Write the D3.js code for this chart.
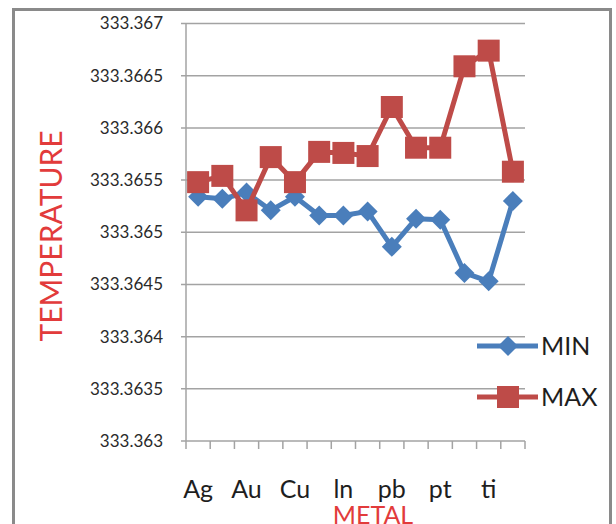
<!DOCTYPE html>
<html>
<head>
<meta charset="utf-8">
<script src="https://cdn.jsdelivr.net/npm/d3@7"></script>
<style>
  body { margin: 0; background: #fff; }
  svg text { font-family: Lato, "Open Sans", sans-serif; }
</style>
</head>
<body>
<div id="chart"></div>
<script>
// Chart data
const categories = ["Ag", "", "Au", "", "Cu", "", "ln", "", "pb", "", "pt", "", "ti", ""];
const minValues = [333.36534, 333.36532, 333.36538, 333.36521, 333.36534, 333.36516, 333.36516,
                   333.36520, 333.36486, 333.36513, 333.36512, 333.36461, 333.36453, 333.36530];
const maxValues = [333.36548, 333.36554, 333.36521, 333.36572, 333.36548, 333.36577, 333.36576,
                   333.36573, 333.36620, 333.36581, 333.36581, 333.36659, 333.36674, 333.36558];
const yTicks = [333.363, 333.3635, 333.364, 333.3645, 333.365, 333.3655, 333.366, 333.3665, 333.367];
const seriesNames = ["MIN", "MAX"];

const width = 616, height = 524;
const plot = { left: 186, right: 525, top: 23.5, bottom: 441 };

const svg = d3.select("#chart")
  .append("svg")
  .attr("width", width)
  .attr("height", height);

// outer frame
svg.append("rect")
  .attr("x", 13.5)
  .attr("y", 9.5)
  .attr("width", 597)
  .attr("height", 540)
  .attr("fill", "#fff")
  .attr("stroke", "#8a8a8a")
  .attr("stroke-width", 3);

const x = d3.scaleBand()
  .domain(d3.range(categories.length))
  .range([plot.left, plot.right]);

const y = d3.scaleLinear()
  .domain([333.363, 333.367])
  .range([plot.bottom, plot.top]);

// gridlines + y ticks
svg.append("g")
  .selectAll("line")
  .data(yTicks)
  .enter()
  .append("line")
  .attr("x1", plot.left - 5)
  .attr("x2", plot.right)
  .attr("y1", d => y(d))
  .attr("y2", d => y(d))
  .attr("stroke", "#a3a3a3")
  .attr("stroke-width", 1.5);

svg.append("g")
  .selectAll("text")
  .data(yTicks)
  .enter()
  .append("text")
  .attr("x", 163)
  .attr("y", d => y(d))
  .attr("dy", "0.35em")
  .attr("text-anchor", "end")
  .attr("font-size", 17)
  .attr("fill", "#2a2a2a")
  .text(d => String(d));

// y axis line
svg.append("line")
  .attr("x1", plot.left).attr("x2", plot.left)
  .attr("y1", plot.top).attr("y2", plot.bottom)
  .attr("stroke", "#a3a3a3")
  .attr("stroke-width", 1.5);

// x axis ticks at band edges
const edges = d3.range(categories.length + 1).map(i => plot.left + i * x.step());
svg.append("g")
  .selectAll("line")
  .data(edges)
  .enter()
  .append("line")
  .attr("x1", d => d).attr("x2", d => d)
  .attr("y1", plot.bottom).attr("y2", plot.bottom + 8)
  .attr("stroke", "#a3a3a3")
  .attr("stroke-width", 1.5);

svg.append("g")
  .selectAll("text")
  .data(categories)
  .enter()
  .append("text")
  .attr("x", (d, i) => x(i) + x.bandwidth() / 2)
  .attr("y", 498)
  .attr("text-anchor", "middle")
  .attr("font-size", 25)
  .attr("fill", "#1e1e1e")
  .text(d => d);

// axis titles
svg.append("text")
  .attr("transform", "translate(62,236) rotate(-90)")
  .attr("text-anchor", "middle")
  .attr("font-size", 30)
  .attr("fill", "#e23b3b")
  .text("TEMPERATURE");

// cut by the bottom edge, as in the original
svg.append("text")
  .attr("x", 373)
  .attr("y", 524)
  .attr("text-anchor", "middle")
  .attr("font-size", 25)
  .attr("fill", "#e23b3b")
  .text("METAL");

// series
const colors = ["#4a7ebb", "#be4b48"];
const line = d3.line()
  .x((d, i) => x(i) + x.bandwidth() / 2)
  .y(d => y(d));

function drawMarker(g, kind, cx, cy, color) {
  if (kind === "diamond") {
    const r = 10;
    g.append("path")
      .attr("d", `M${cx},${cy - r}L${cx + r},${cy}L${cx},${cy + r}L${cx - r},${cy}Z`)
      .attr("fill", color);
  } else {
    const s = 22;
    g.append("rect")
      .attr("x", cx - s / 2).attr("y", cy - s / 2)
      .attr("width", s).attr("height", s)
      .attr("fill", color);
  }
}

[minValues, maxValues].forEach((vals, k) => {
  const g = svg.append("g");
  g.append("path")
    .datum(vals)
    .attr("d", line)
    .attr("fill", "none")
    .attr("stroke", colors[k])
    .attr("stroke-width", 5)
    .attr("stroke-linejoin", "round");
  vals.forEach((v, i) => {
    drawMarker(g, k === 0 ? "diamond" : "square", x(i) + x.bandwidth() / 2, y(v), colors[k]);
  });
});

// legend
const legendY = [346, 397];
seriesNames.forEach((name, k) => {
  const g = svg.append("g");
  g.append("line")
    .attr("x1", 477).attr("x2", 538)
    .attr("y1", legendY[k]).attr("y2", legendY[k])
    .attr("stroke", colors[k])
    .attr("stroke-width", 5);
  drawMarker(g, k === 0 ? "diamond" : "square", 508, legendY[k], colors[k]);
  g.append("text")
    .attr("x", 541)
    .attr("y", legendY[k])
    .attr("dy", "0.36em")
    .attr("font-size", 25)
    .attr("fill", "#1e1e1e")
    .text(name);
});
</script>
</body>
</html>
